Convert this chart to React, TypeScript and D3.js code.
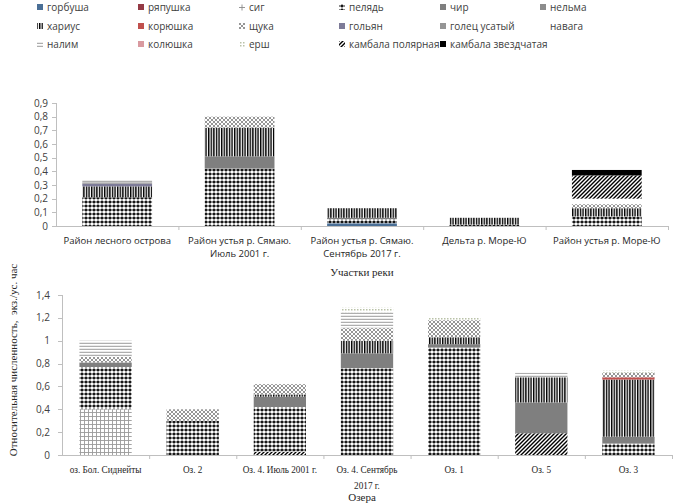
import React from "react";
import * as d3 from "d3";

const seriesNames = [
  "горбуша", "ряпушка", "сиг", "пелядь", "чир", "нельма",
  "хариус", "корюшка", "щука", "гольян", "голец усатый", "навага",
  "налим", "колюшка", "ерш", "камбала полярная", "камбала звездчатая",
];

// fills per series (index aligned with seriesNames)
const seriesFills = [
  "#4a6f96", "#943a45", "url(#p-sig)", "url(#p-pel)", "#7f7f7f", "#8c8c8c",
  "url(#p-khar)", "#c0504d", "url(#p-shch)", "#7d7b98", "#959595", "#ffffff",
  "url(#p-nalim)", "#d99aa0", "url(#p-ersh)", "url(#p-kamb)", "#000000",
];

// River sections
const riverCats = [
  "Район лесного острова",
  "Район устья р. Сямаю.|Июль 2001 г.",
  "Район устья р. Сямаю.|Сентябрь 2017 г.",
  "Дельта р. Море-Ю",
  "Район устья р. Море-Ю",
];
const riverLesnoy =    [0, 0, 0, 0.21, 0, 0, 0.08, 0, 0, 0.02, 0.01, 0, 0.02, 0, 0, 0, 0];
const riverSyamayuJul = [0, 0, 0, 0.42, 0.09, 0, 0.21, 0, 0.08, 0, 0, 0, 0, 0, 0, 0, 0];
const riverSyamayuSep = [0.02, 0, 0, 0.03, 0.01, 0, 0.07, 0, 0, 0, 0, 0, 0, 0, 0, 0, 0];
const riverDelta =      [0, 0, 0, 0.01, 0, 0, 0.05, 0, 0, 0, 0, 0, 0, 0, 0, 0, 0];
const riverMoreYu =     [0, 0, 0, 0.07, 0, 0, 0.06, 0, 0.03, 0, 0, 0.04, 0, 0, 0, 0.17, 0.04];
const riverRows = [riverLesnoy, riverSyamayuJul, riverSyamayuSep, riverDelta, riverMoreYu];
const riverTicks = [0, 0.1, 0.2, 0.3, 0.4, 0.5, 0.6, 0.7, 0.8, 0.9];

// Lakes
const lakeCats = [
  "оз. Бол. Сиднейты",
  "Оз. 2",
  "Оз. 4. Июль 2001 г.",
  "Оз. 4. Сентябрь|2017 г.",
  "Оз. 1",
  "Оз. 5",
  "Оз. 3",
];
const lakeSidneyty = [0, 0, 0.40, 0.37, 0.04, 0, 0, 0, 0.05, 0, 0, 0, 0.14, 0, 0, 0, 0];
const lakeOz2 =      [0, 0, 0, 0.30, 0, 0, 0, 0, 0.10, 0, 0, 0, 0, 0, 0, 0, 0];
const lakeOz4Jul =   [0, 0, 0, 0.39, 0.09, 0, 0.02, 0, 0.09, 0, 0, 0, 0, 0, 0, 0.03, 0];
const lakeOz4Sep =   [0, 0, 0, 0.76, 0.13, 0, 0.11, 0, 0.11, 0, 0, 0, 0.14, 0, 0.04, 0, 0];
const lakeOz1 =      [0, 0, 0, 0.94, 0.03, 0, 0.06, 0, 0.15, 0, 0, 0, 0, 0, 0.02, 0, 0];
const lakeOz5 =      [0, 0, 0, 0, 0.27, 0, 0.22, 0, 0, 0, 0, 0, 0.04, 0, 0, 0.19, 0];
const lakeOz3 =      [0, 0, 0, 0.10, 0.06, 0, 0.50, 0.02, 0.04, 0, 0, 0, 0, 0, 0.02, 0, 0];
const lakeRows = [lakeSidneyty, lakeOz2, lakeOz4Jul, lakeOz4Sep, lakeOz1, lakeOz5, lakeOz3];
const lakeTicks = [0, 0.2, 0.4, 0.6, 0.8, 1, 1.2, 1.4];
// stacking order in lake chart (камбала полярная sits at the bottom)
const lakeOrder = [15, 0, 1, 2, 3, 4, 5, 6, 7, 8, 9, 10, 11, 12, 13, 14, 16];
const riverOrder = seriesNames.map((_, i) => i);

const fmt = (v: number) => String(Math.round(v * 10) / 10).replace(".", ",");

const SANS = "'Open Sans', 'Noto Sans', sans-serif";
const SERIF = "'Liberation Serif', 'DejaVu Serif', serif";
const AXIS = "#bfbfbf";

type ChartProps = {
  cats: string[];
  rows: number[][];
  order: number[];
  ticks: number[];
  yMax: number;
  x0: number; x1: number; yTop: number; yBottom: number;
  bandPad: number;
  labelFont: string; labelSize: number; labelScaleX: number; labelY: number; labelLineH: number;
  tickX: number;
};

function StackChart(p: ChartProps) {
  const x = d3.scaleBand<string>().domain(p.cats).range([p.x0, p.x1]).paddingInner(p.bandPad).paddingOuter(p.bandPad / 2);
  const y = d3.scaleLinear().domain([0, p.yMax]).range([p.yBottom, p.yTop]);
  const table = p.cats.map((c, ci) => {
    const o: any = { cat: c };
    seriesNames.forEach((s, si) => (o[s] = p.rows[ci][si]));
    return o;
  });
  const stack = d3.stack<any>().keys(p.order.map((i) => seriesNames[i]));
  const layers = stack(table);
  const step = (p.x1 - p.x0) / p.cats.length;
  return (
    <g>
      {layers.map((layer, li) => {
        const si = p.order[li];
        return (
          <g key={li}>
            {layer.map((d, di) =>
              d[1] - d[0] > 0 ? (
                <rect key={di} x={x(p.cats[di])} width={x.bandwidth()} y={y(d[1])} height={y(d[0]) - y(d[1])} fill={seriesFills[si]} />
              ) : null
            )}
          </g>
        );
      })}
      {/* axes */}
      <line x1={p.x0} x2={p.x1} y1={p.yBottom + 0.5} y2={p.yBottom + 0.5} stroke={AXIS} />
      <line x1={p.x0 + 0.5} x2={p.x0 + 0.5} y1={y(p.yMax)} y2={p.yBottom} stroke={AXIS} />
      {p.ticks.map((t) => (
        <g key={t}>
          <line x1={p.x0 - 4} x2={p.x0} y1={Math.round(y(t)) + 0.5} y2={Math.round(y(t)) + 0.5} stroke={AXIS} />
          <text x={p.tickX} y={y(t) + 3.5} textAnchor="end" fontFamily={SANS} fontSize={10} fill="#404040">{fmt(t)}</text>
        </g>
      ))}
      {p.cats.map((c, i) => (
        <line key={i} x1={p.x0 + step * (i + 1) + 0.5} x2={p.x0 + step * (i + 1) + 0.5} y1={p.yBottom} y2={p.yBottom + 4} stroke={AXIS} />
      ))}
      {p.cats.map((c, i) => {
        const cx = (x(c) as number) + x.bandwidth() / 2;
        return c.split("|").map((line, li) => (
          <text key={i + "-" + li} transform={`translate(${cx},${p.labelY + li * p.labelLineH}) scale(${p.labelScaleX},1)`} textAnchor="middle" fontFamily={p.labelFont} fontSize={p.labelSize} fill="#262626">{line}</text>
        ));
      })}
    </g>
  );
}

const legendColX = [40, 141, 242, 342, 443, 543];
const legendRowY = [7, 26, 44];

export default function App() {
  return (
    <svg width={679} height={504} style={{ position: "absolute", left: 0, top: 0, background: "#fff" }}>
      <defs>
        <pattern id="p-pel" width={4} height={4} patternUnits="userSpaceOnUse">
          <rect width={4} height={4} fill="#fff" />
          <path d="M0.4,2 H3.6 M2,0.4 V3.6" stroke="#000" strokeWidth={1.3} />
        </pattern>
        <pattern id="p-khar" width={2.6} height={4} patternUnits="userSpaceOnUse">
          <rect width={2.6} height={4} fill="#fff" />
          <rect width={1.4} height={4} fill="#000" />
        </pattern>
        <pattern id="p-shch" width={4} height={4} patternUnits="userSpaceOnUse">
          <rect width={4} height={4} fill="#fff" />
          <path d="M0,0 L4,4 M4,0 L0,4" stroke="#8a8a8a" strokeWidth={0.9} />
        </pattern>
        <pattern id="p-sig" width={4} height={4} patternUnits="userSpaceOnUse">
          <rect width={4} height={4} fill="#fff" />
          <path d="M0,0.5 H4 M0.5,0 V4" stroke="#9a9a9a" strokeWidth={0.9} />
        </pattern>
        <pattern id="p-nalim" width={4} height={3} patternUnits="userSpaceOnUse">
          <rect width={4} height={3} fill="#fff" />
          <rect y={0.8} width={4} height={1} fill="#9a9a9a" />
        </pattern>
        <pattern id="p-ersh" width={3} height={3} patternUnits="userSpaceOnUse">
          <rect width={3} height={3} fill="#fff" />
          <rect width={1.5} height={1.5} fill="#b9c2a8" />
        </pattern>
        <pattern id="p-kamb" width={4} height={4} patternUnits="userSpaceOnUse">
          <rect width={4} height={4} fill="#fff" />
          <path d="M0,4 L4,0 M-1,1 L1,-1 M3,5 L5,3" stroke="#000" strokeWidth={1.4} />
        </pattern>
      </defs>

      {/* legend */}
      {seriesNames.map((s, i) => {
        const col = i % 6;
        const row = Math.floor(i / 6);
        const lx = legendColX[col];
        const ly = legendRowY[row];
        let marker: React.ReactNode = <rect x={lx - 3} y={ly - 3} width={6} height={6} fill={seriesFills[i]} />;
        if (s === "навага") marker = null;
        if (s === "сиг") marker = <path d={`M${lx - 3},${ly + 0.5} H${lx + 3} M${lx},${ly - 2.5} V${ly + 3.5}`} stroke="#8a8a8a" strokeWidth={0.9} />;
        return (
          <g key={s}>
            {marker}
            <text x={lx + 7} y={ly + 3.5} fontFamily={SANS} fontSize={10} fill="#404040">{s}</text>
          </g>
        );
      })}

      <StackChart
        cats={riverCats} rows={riverRows} order={riverOrder} ticks={riverTicks} yMax={0.9}
        x0={56} x1={668} yTop={103} yBottom={226} bandPad={0.43}
        labelFont={SANS} labelSize={9.5} labelScaleX={1} labelY={244} labelLineH={13} tickX={48}
      />
      <text x={362} y={276} textAnchor="middle" fontFamily={SERIF} fontSize={11} fill="#262626">Участки реки</text>

      <StackChart
        cats={lakeCats} rows={lakeRows} order={lakeOrder} ticks={lakeTicks} yMax={1.4}
        x0={62} x1={672} yTop={295} yBottom={455} bandPad={0.4}
        labelFont={SERIF} labelSize={11} labelScaleX={0.84} labelY={473} labelLineH={16} tickX={50}
      />
      <text x={362} y={501} textAnchor="middle" fontFamily={SERIF} fontSize={11} fill="#262626">Озера</text>

      <text transform="translate(17,360) rotate(-90)" textAnchor="middle" fontFamily={SERIF} fontSize={11} fill="#262626" xmlSpace="preserve">Относительная численность,  экз./ус. час</text>
    </svg>
  );
}
